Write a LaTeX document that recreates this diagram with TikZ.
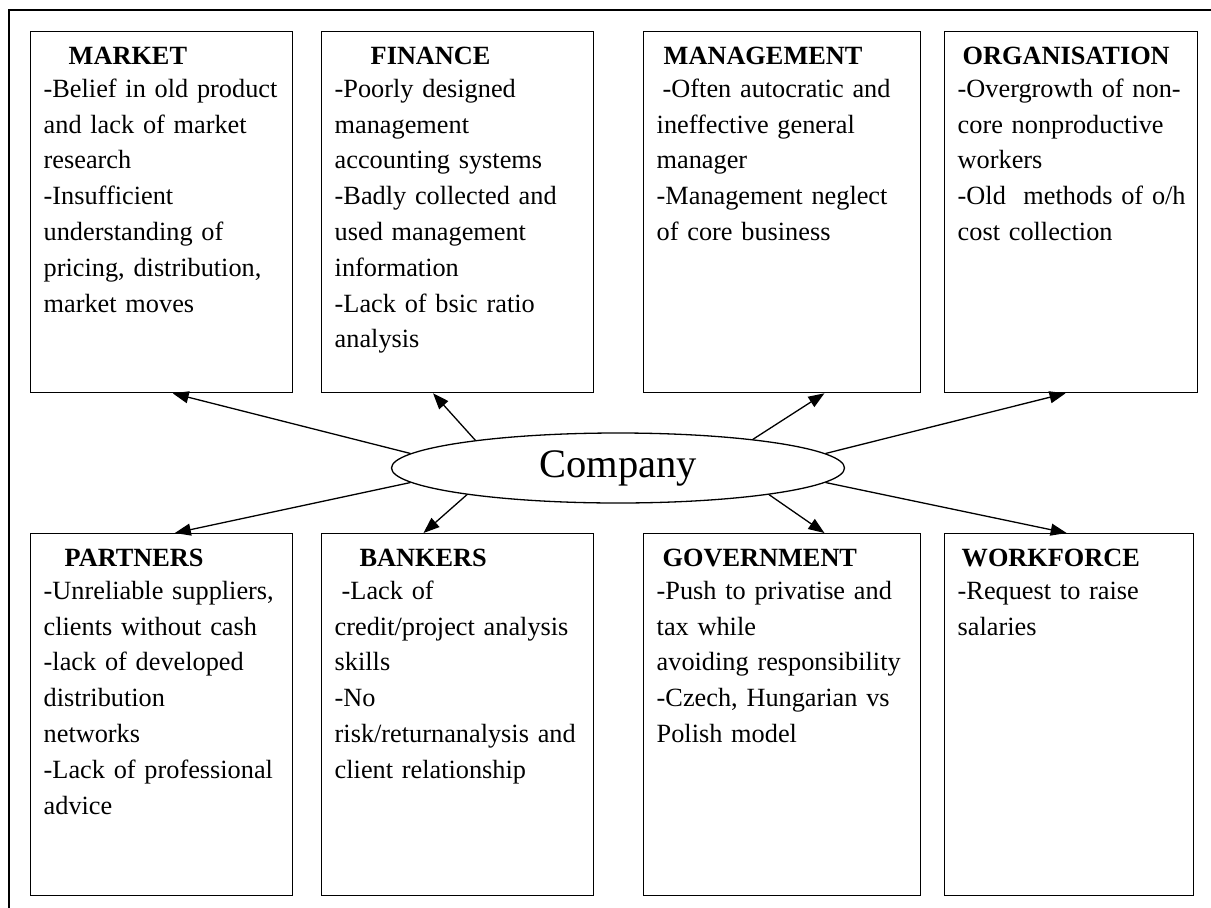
\documentclass[tikz,border=0pt]{standalone}
\usepackage{fontspec}
\setmainfont{Liberation Serif}
\usetikzlibrary{shapes.geometric,arrows.meta,calc}
\tikzstyle{panel}=[draw, line width=1.3pt, anchor=north west, inner sep=0pt]
\tikzstyle{paneltext}=[anchor=base west, inner sep=0pt, text width=280pt, align=left, font=\fontsize{26.3}{35.8}\selectfont]
\tikzstyle{hub}=[ellipse, draw, line width=1.3pt, minimum width=453pt, minimum height=70pt, inner sep=0pt, font=\fontsize{40.5}{48}\selectfont]
\tikzstyle{link}=[draw, line width=1.3pt, -{Triangle[length=16pt,width=12pt]}]
\newcommand{\panel}{\node[panel]}
\newcommand{\head}[2]{\hspace*{#1pt}\textbf{#2}\\[-2.5pt]}

\begin{document}
\begin{tikzpicture}[x=1pt,y=-1pt]
\useasboundingbox (0,0) rectangle (1211,908);
\draw[line width=1.6pt] (8.7,908) -- (8.7,9.7) -- (1211,9.7);

% top row
\panel[minimum width=262pt, minimum height=361pt] (market) at (30,31) {};
\panel[minimum width=272pt, minimum height=361pt] (finance) at (321,31) {};
\panel[minimum width=277pt, minimum height=361pt] (management) at (643,31) {};
\panel[minimum width=253pt, minimum height=361pt] (organisation) at (944,31) {};

% bottom row
\panel[minimum width=262pt, minimum height=362pt] (partners) at (30,533) {};
\panel[minimum width=272pt, minimum height=362pt] (bankers) at (321,533) {};
\panel[minimum width=277pt, minimum height=362pt] (government) at (643,533) {};
\panel[minimum width=249pt, minimum height=362pt] (workforce) at (944,533) {};

\node[paneltext] (markettext) at ($(market.north west)+(13.5,33)$) {\head{25}{MARKET}
-Belief in old product\\ and lack of market\\ research\\ -Insufficient\\ understanding of\\ pricing, distribution,\\ market moves};
\node[paneltext] (financetext) at ($(finance.north west)+(13.5,33)$) {\head{36}{FINANCE}
-Poorly designed\\ management\\ accounting systems\\ -Badly collected and\\ used management\\ information\\ -Lack of bsic ratio\\ analysis};
\node[paneltext] (managementtext) at ($(management.north west)+(13.5,33)$) {\head{7}{MANAGEMENT}
\hspace*{6pt}-Often autocratic and\\ ineffective general\\ manager\\ -Management neglect\\ of core business};
\node[paneltext] (organisationtext) at ($(organisation.north west)+(13.5,33)$) {\head{5}{ORGANISATION}
-Overgrowth of non-\\ core nonproductive\\ workers\\ -Old\ \ methods of o/h\\ cost collection};

\node[paneltext] (partnerstext) at ($(partners.north west)+(13.5,33)$) {\head{21}{PARTNERS}
-Unreliable suppliers,\\ clients without cash\\ -lack of developed\\ distribution\\ networks\\ -Lack of professional\\ advice};
\node[paneltext] (bankerstext) at ($(bankers.north west)+(13.5,33)$) {\head{25}{BANKERS}
\hspace*{7pt}-Lack of\\ credit/project analysis\\ skills\\ -No\\ risk/returnanalysis and\\ client relationship};
\node[paneltext] (governmenttext) at ($(government.north west)+(13.5,33)$) {\head{6}{GOVERNMENT}
-Push to privatise and\\ tax while\\ avoiding responsibility\\ -Czech, Hungarian vs\\ Polish model};
\node[paneltext] (workforcetext) at ($(workforce.north west)+(13.5,33)$) {\head{4}{WORKFORCE}
-Request to raise\\ salaries};

\node[hub] (company) at (618,468) {Company};

\path
  (company.176) edge[link] ($(market.south west)!.542!(market.south east)$)
  (company.169) edge[link] ($(finance.south west)!.41!(finance.south east)$)
  (company.12)  edge[link] ($(management.south west)!.652!(management.south east)$)
  (company.4)   edge[link] ($(organisation.south west)!.478!(organisation.south east)$)
  (company.184) edge[link] ($(partners.north west)!.55!(partners.north east)$)
  (company.190) edge[link] ($(bankers.north west)!.375!(bankers.north east)$)
  (company.350) edge[link] ($(government.north west)!.652!(government.north east)$)
  (company.356) edge[link] ($(workforce.north west)!.49!(workforce.north east)$)
;
\end{tikzpicture}
\end{document}
